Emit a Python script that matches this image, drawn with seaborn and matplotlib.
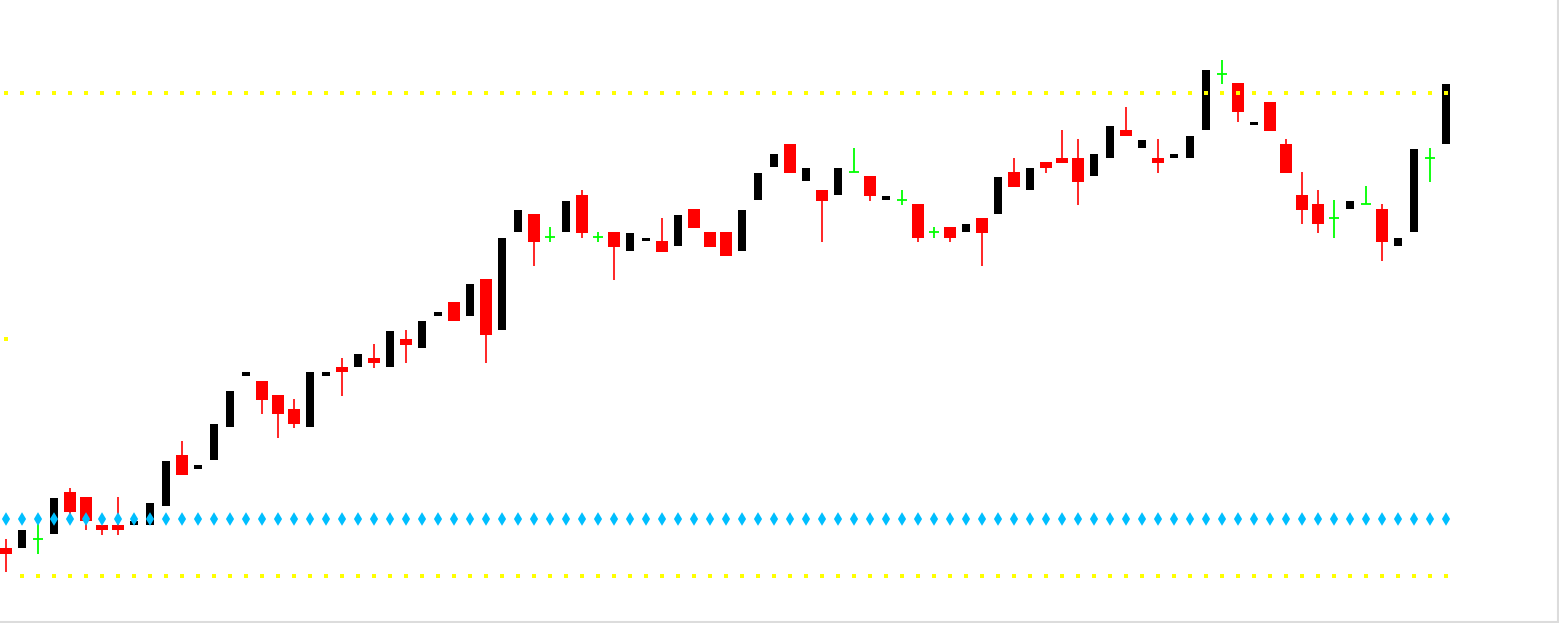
import matplotlib

matplotlib.use("Agg")
import matplotlib.pyplot as plt
import numpy as np
import pandas as pd
import seaborn as sns

# price bars, one per session
opens = [75, 75, 84, 89, 131, 126, 98, 98, 98, 98, 117, 168, 154, 163, 196, 247,
         242, 228, 214, 196, 247, 256, 256, 265, 256, 284, 275, 307, 321, 307, 344,
         293, 391, 409, 386, 391, 428, 386, 391, 372, 382, 382, 377, 414, 391, 391,
         372, 423, 456, 479, 442, 433, 428, 451, 447, 423, 423, 419, 391, 396, 391,
         405, 409, 451, 433, 461, 465, 465, 447, 465, 493, 475, 465, 465, 465, 493,
         549, 540, 498, 521, 479, 428, 419, 405, 414, 419, 414, 377, 391, 465, 479]
highs = [84, 93, 100, 125, 135, 126, 98, 126, 102, 120, 162, 182, 158, 199, 232, 251,
         242, 228, 224, 251, 251, 265, 269, 279, 292, 293, 302, 311, 321, 339, 344,
         385, 413, 409, 396, 422, 433, 391, 391, 390, 385, 405, 408, 414, 391, 391,
         413, 450, 469, 479, 455, 433, 455, 475, 447, 427, 433, 419, 396, 396, 399,
         405, 446, 465, 455, 461, 493, 484, 469, 497, 516, 483, 484, 469, 487, 553,
         563, 540, 501, 521, 484, 451, 433, 423, 422, 437, 419, 385, 474, 475, 539]
lows = [51, 75, 69, 89, 107, 93, 88, 88, 98, 98, 117, 148, 154, 163, 196, 247,
        209, 185, 195, 196, 247, 227, 256, 255, 256, 260, 275, 307, 302, 307, 260,
        293, 391, 357, 381, 391, 385, 381, 343, 372, 382, 371, 377, 395, 376, 367,
        372, 423, 456, 450, 442, 381, 428, 451, 422, 423, 418, 381, 385, 381, 391,
        357, 409, 436, 433, 450, 460, 418, 447, 465, 487, 475, 450, 465, 465, 493,
        539, 501, 498, 492, 450, 399, 390, 385, 414, 419, 362, 377, 391, 441, 479]
closes = [69, 93, 84, 125, 111, 102, 93, 93, 102, 120, 162, 148, 158, 199, 232, 251,
          223, 209, 199, 251, 251, 251, 269, 260, 292, 278, 302, 311, 302, 339, 288,
          385, 413, 381, 386, 422, 390, 386, 376, 390, 385, 371, 408, 395, 376, 367,
          413, 450, 469, 450, 455, 422, 455, 451, 427, 427, 423, 385, 391, 385, 399,
          390, 446, 436, 455, 455, 460, 441, 469, 497, 487, 483, 460, 469, 487, 553,
          549, 511, 501, 492, 450, 413, 399, 405, 422, 419, 381, 385, 474, 465, 539]

# indicator levels
upper_band = [530] * 91
lower_band = [284] + [47] * 90
signal_level = [104] * 91


def main() -> None:
    df = pd.DataFrame({"open": opens, "high": highs, "low": lows, "close": closes})
    df["bar"] = np.arange(len(df))
    df["upper"] = upper_band
    df["lower"] = lower_band
    df["signal"] = signal_level

    sns.set_style("white")
    fig = plt.figure(figsize=(15.59, 6.23), dpi=100)
    ax = fig.add_axes([0, 1 / 623, 1558 / 1559, 622 / 623])

    up = df[df["close"] > df["open"]]
    down = df[df["close"] < df["open"]]
    doji = df[df["close"] == df["open"]]

    # bullish: plain black bodies
    ax.bar(up["bar"], up["close"] - up["open"], bottom=up["open"], width=0.56,
           color="black", linewidth=0, zorder=2)

    # bearish: red wicks and bodies
    ax.vlines(down["bar"], down["low"], down["high"], color="#ff0000", linewidth=1.2, zorder=2)
    ax.bar(down["bar"], down["open"] - down["close"], bottom=down["close"], width=0.69,
           color="#ff0000", linewidth=0, zorder=3)

    # doji: green crosses
    ax.vlines(doji["bar"], doji["low"], doji["high"], color="#00ff00", linewidth=1.3, zorder=2)
    ax.hlines(doji["open"], doji["bar"] - 0.34, doji["bar"] + 0.34, color="#00ff00",
              linewidth=1.3, zorder=2)

    sns.scatterplot(data=df, x="bar", y="upper", marker="s", s=5, color="#ffff00",
                    edgecolor="none", ax=ax, zorder=4)
    sns.scatterplot(data=df, x="bar", y="lower", marker="s", s=5, color="#ffff00",
                    edgecolor="none", ax=ax, zorder=4)
    sns.scatterplot(data=df, x="bar", y="signal", marker="d", s=48, color="#00bfff",
                    edgecolor="none", ax=ax, zorder=5)

    ax.set_xlim(-0.375, -0.375 + 1558 / 16)
    ax.set_ylim(1, 623)
    ax.set_xticks([])
    ax.set_yticks([])
    ax.set_xlabel("")
    ax.set_ylabel("")
    for side in ("left", "top"):
        ax.spines[side].set_visible(False)
    for side in ("right", "bottom"):
        ax.spines[side].set_color("#dcdcdc")
        ax.spines[side].set_linewidth(1.5)

    fig.savefig("out.png", dpi=100)


if __name__ == "__main__":
    main()
